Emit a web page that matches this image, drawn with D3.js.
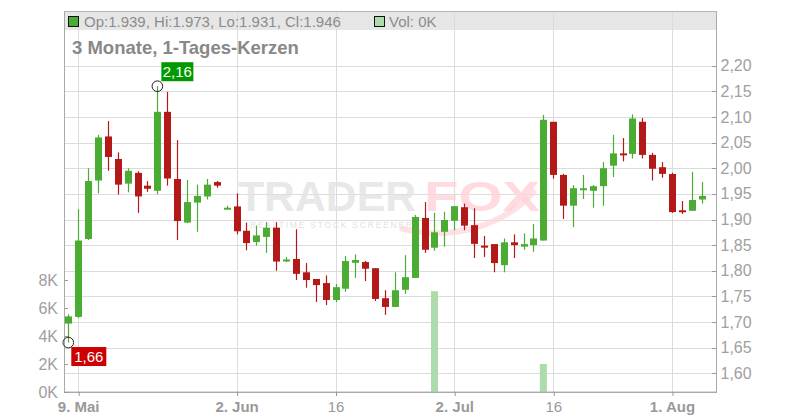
<!DOCTYPE html>
<html>
<head>
<meta charset="utf-8">
<script src="https://cdn.jsdelivr.net/npm/d3@7"></script>
<style>
  html, body { margin: 0; padding: 0; background: #fff; }
  svg { display: block; font-family: "Liberation Sans", Arial, sans-serif; }
</style>
</head>
<body>
<svg id="chart" width="800" height="420"></svg>
<script>
// ---------------- data ----------------
const dates = [
  "2024-05-08","2024-05-09","2024-05-10","2024-05-13","2024-05-14","2024-05-15","2024-05-16","2024-05-17",
  "2024-05-20","2024-05-21","2024-05-22","2024-05-23","2024-05-24","2024-05-27","2024-05-28","2024-05-29",
  "2024-05-30","2024-05-31","2024-06-03","2024-06-04","2024-06-05","2024-06-06","2024-06-07","2024-06-10",
  "2024-06-11","2024-06-12","2024-06-13","2024-06-14","2024-06-17","2024-06-18","2024-06-19","2024-06-20",
  "2024-06-21","2024-06-24","2024-06-25","2024-06-26","2024-06-27","2024-06-28","2024-07-01","2024-07-02",
  "2024-07-03","2024-07-04","2024-07-05","2024-07-08","2024-07-09","2024-07-10","2024-07-11","2024-07-12",
  "2024-07-15","2024-07-16","2024-07-17","2024-07-18","2024-07-19","2024-07-22","2024-07-23","2024-07-24",
  "2024-07-25","2024-07-26","2024-07-29","2024-07-30","2024-07-31","2024-08-01","2024-08-02","2024-08-05",
  "2024-08-06"
];
const openV = [1.697,1.71,1.862,1.976,2.062,2.018,1.970,1.991,1.966,1.956,2.11,1.979,1.894,1.933,1.945,1.973,
  1.922,1.9255,1.878,1.856,1.866,1.884,1.819,1.823,1.797,1.784,1.776,1.743,1.765,1.8155,1.817,1.805,
  1.7465,1.7295,1.763,1.786,1.903,1.845,1.876,1.8975,1.924,1.889,1.849,1.852,1.811,1.8555,1.847,1.850,
  1.859,2.0906,1.987,1.927,1.959,1.956,1.965,2.005,2.029,2.028,2.0906,2.026,2.002,1.9887,1.918,1.917,1.939];
const highV = [1.715,1.92,2.00,2.065,2.092,2.031,2.00,1.994,1.975,2.16,2.149,2.055,1.977,1.968,1.979,1.975,
  1.927,1.951,1.894,1.888,1.895,1.895,1.827,1.881,1.815,1.784,1.791,1.774,1.829,1.832,1.819,1.805,
  1.762,1.797,1.8305,1.909,1.934,1.913,1.915,1.926,1.931,1.922,1.868,1.852,1.863,1.871,1.873,1.891,
  2.104,2.0906,1.989,1.967,1.987,1.967,2.012,2.065,2.059,2.105,2.098,2.030,2.012,1.991,1.936,1.993,1.973];
const lowV = [1.66,1.708,1.86,1.951,1.995,1.949,1.953,1.913,1.954,1.949,1.966,1.86,1.893,1.876,1.939,1.962,
  1.922,1.871,1.84,1.849,1.835,1.80,1.817,1.782,1.767,1.739,1.733,1.739,1.759,1.786,1.780,1.741,
  1.714,1.7295,1.755,1.786,1.835,1.839,1.847,1.879,1.879,1.825,1.827,1.797,1.797,1.825,1.841,1.837,
  1.859,1.9795,1.901,1.885,1.940,1.923,1.927,1.983,2.0135,2.019,2.019,1.976,1.9815,1.913,1.911,1.917,1.931];
const closeV = [1.711,1.859,1.975,2.06,2.022,1.968,1.995,1.945,1.960,2.11,1.98,1.897,1.934,1.946,1.968,1.966,
  1.923,1.877,1.854,1.869,1.884,1.818,1.822,1.794,1.782,1.772,1.743,1.768,1.819,1.821,1.804,1.745,
  1.7295,1.762,1.7875,1.905,1.841,1.875,1.899,1.926,1.888,1.8525,1.846,1.815,1.8555,1.850,1.852,1.863,
  2.0945,1.987,1.927,1.961,1.961,1.965,2.0,2.029,2.026,2.097,2.026,1.999,1.989,1.9145,1.915,1.938,1.946];
const volumeV = [0,0,0,0,0,0,0,0,0,0,0,0,0,0,0,0,
  0,0,0,0,0,0,0,0,0,0,0,0,0,0,0,0,
  0,0,0,0,0,7200,0,0,0,0,0,0,0,0,0,0,
  2000,0,0,0,0,0,0,0,0,0,0,0,0,0,0,0,0];

const priceTicks = [1.60,1.65,1.70,1.75,1.80,1.85,1.90,1.95,2.00,2.05,2.10,2.15,2.20];
const volTicks = [0,2000,4000,6000,8000];
const xTickDates = ["2024-05-09","2024-05-31","2024-06-14","2024-07-02","2024-07-16","2024-08-01"];
const xTickLabels = ["9. Mai","2. Jun","16","2. Jul","16","1. Aug"];
const xTickBold = [true,true,false,true,false,true];

const headerText = "Op:1.939, Hi:1.973, Lo:1.931, Cl:1.946";
const volText = "Vol: 0K";
const titleText = "3 Monate, 1-Tages-Kerzen";
const maxLabel = "2,16";
const minLabel = "1,66";

// ---------------- layout ----------------
const L = 64, R = 716, T = 12, B = 392;
const GREEN = "#4aac32", RED = "#b31919";
const svg = d3.select("#chart");

const x = d3.scalePoint().domain(dates).range([68.3, 701.7]);
const y = d3.scaleLinear().domain([1.60, 2.20]).range([373.3, 65.7]);
const yv = d3.scaleLinear().domain([0, 8000]).range([B, 280]);

const candles = dates.map((d, i) => ({
  date: d, o: openV[i], h: highV[i], l: lowV[i], c: closeV[i], v: volumeV[i]
}));

// header band
svg.append("rect").attr("x", L).attr("y", T).attr("width", R - L).attr("height", 18).attr("fill", "#e6e6e6");

// gridlines
const grid = svg.append("g");
grid.selectAll("line.h").data(priceTicks).join("line")
  .attr("x1", L).attr("x2", R)
  .attr("y1", d => Math.round(y(d)) + 0.5).attr("y2", d => Math.round(y(d)) + 0.5)
  .attr("stroke", "#dcdcdc").attr("stroke-width", 1);
grid.selectAll("line.v").data(xTickDates).join("line")
  .attr("x1", d => Math.round(x(d)) + 0.5).attr("x2", d => Math.round(x(d)) + 0.5)
  .attr("y1", T).attr("y2", B)
  .attr("stroke", "#dcdcdc").attr("stroke-width", 1);

// watermark
const wm = svg.append("g");
wm.append("text").attr("x", 238).attr("y", 211).attr("font-size", 42).attr("font-weight", 900)
  .attr("fill", "#e4e4e4").attr("fill-opacity", 0.85).attr("textLength", 178).attr("lengthAdjust", "spacingAndGlyphs")
  .text("TRADER");
wm.append("text").attr("x", 424).attr("y", 211).attr("font-size", 42).attr("font-weight", 900)
  .attr("fill", "#ffd3d9").attr("fill-opacity", 0.85).attr("textLength", 116).attr("lengthAdjust", "spacingAndGlyphs")
  .text("FOX");
wm.append("path").attr("d", "M400,228 C440,240 500,232 535,190")
  .attr("fill", "none").attr("stroke", "#ffd3d9").attr("stroke-opacity", 0.7).attr("stroke-width", 6);
wm.append("text").attr("x", 250).attr("y", 228).attr("font-size", 8.5)
  .attr("fill", "#e2e2e2").attr("textLength", 162).attr("lengthAdjust", "spacing")
  .text("REALTIME STOCK SCREENER");

// volume bars
svg.append("g").selectAll("rect").data(candles.filter(d => d.v > 0)).join("rect")
  .attr("x", d => x(d.date) - 3.5).attr("width", 7)
  .attr("y", d => yv(d.v)).attr("height", d => B - yv(d.v))
  .attr("fill", "#acdcac");

// border / axes lines
svg.append("rect").attr("x", L + 0.5).attr("y", T - 0.5).attr("width", R - L).attr("height", B - T + 0.5)
  .attr("fill", "none").attr("stroke", "#b4b4b4").attr("stroke-width", 1);
svg.append("line").attr("x1", L).attr("x2", R + 1).attr("y1", B + 0.5).attr("y2", B + 0.5).attr("stroke", "#aaa");
svg.append("line").attr("x1", L + 0.5).attr("x2", L + 0.5).attr("y1", T).attr("y2", B).attr("stroke", "#aaa");
svg.append("line").attr("x1", R + 0.5).attr("x2", R + 0.5).attr("y1", T).attr("y2", B).attr("stroke", "#aaa");

// candles
const cg = svg.append("g");
cg.selectAll("line").data(candles).join("line")
  .attr("x1", d => Math.round(x(d.date)) + 0.5).attr("x2", d => Math.round(x(d.date)) + 0.5)
  .attr("y1", d => y(d.h)).attr("y2", d => y(d.l))
  .attr("stroke", d => d.c >= d.o ? GREEN : RED).attr("stroke-width", 1.2);
cg.selectAll("rect").data(candles).join("rect")
  .attr("x", d => Math.round(x(d.date)) - 3).attr("width", 7)
  .attr("y", d => Math.min(y(d.o), y(d.c)))
  .attr("height", d => Math.max(2, Math.abs(y(d.o) - y(d.c))))
  .attr("fill", d => d.c >= d.o ? GREEN : RED);

// right price axis
const ra = svg.append("g").attr("transform", `translate(${R + 0.5},0)`)
  .call(d3.axisRight(y).tickValues(priceTicks).tickSize(0).tickPadding(4)
    .tickFormat(d => d3.format(".2f")(d).replace(".", ",")));
ra.select(".domain").remove();
ra.selectAll("text").attr("fill", "#a0a0a0").attr("font-size", 16)
  .attr("font-family", "Liberation Sans, Arial, sans-serif");
svg.append("g").selectAll("line").data(priceTicks).join("line")
  .attr("x1", R - 4).attr("x2", R).attr("y1", d => Math.round(y(d)) + 0.5).attr("y2", d => Math.round(y(d)) + 0.5)
  .attr("stroke", "#999");

// left volume axis
const la = svg.append("g").attr("transform", `translate(${L},0)`)
  .call(d3.axisLeft(yv).tickValues(volTicks).tickSize(0).tickPadding(6)
    .tickFormat(d => (d / 1000) + "K"));
la.select(".domain").remove();
la.selectAll("text").attr("fill", "#a0a0a0").attr("font-size", 16)
  .attr("font-family", "Liberation Sans, Arial, sans-serif");
svg.append("g").selectAll("line").data(volTicks).join("line")
  .attr("x1", L).attr("x2", L + 4).attr("y1", d => Math.round(yv(d)) + 0.5).attr("y2", d => Math.round(yv(d)) + 0.5)
  .attr("stroke", "#999");

// bottom axis
const ba = svg.append("g").attr("transform", `translate(0,${B})`)
  .call(d3.axisBottom(x).tickValues(xTickDates).tickSize(4).tickPadding(5)
    .tickFormat((d, i) => xTickLabels[i]));
ba.select(".domain").remove();
ba.selectAll("line").attr("stroke", "#999").attr("transform", "translate(0.5,0)");
ba.selectAll("text").attr("fill", "#999").attr("font-size", 15)
  .attr("font-family", "Liberation Sans, Arial, sans-serif")
  .attr("font-weight", (d, i) => xTickBold[i] ? "bold" : "normal");

// header legend
svg.append("rect").attr("x", 68.5).attr("y", 16.5).attr("width", 10).attr("height", 10)
  .attr("fill", GREEN).attr("stroke", "#111");
svg.append("text").attr("x", 84).attr("y", 26.5).attr("font-size", 15).attr("fill", "#8c8c8c").text(headerText);
svg.append("rect").attr("x", 374.5).attr("y", 16.5).attr("width", 10).attr("height", 10)
  .attr("fill", "#acdcac").attr("stroke", "#111");
svg.append("text").attr("x", 389).attr("y", 26.5).attr("font-size", 15).attr("fill", "#8c8c8c").text(volText);

// title
svg.append("text").attr("x", 72).attr("y", 54).attr("font-size", 18.5).attr("font-weight", "bold")
  .attr("fill", "#888").text(titleText);

// max / min markers
const iMax = d3.maxIndex(highV), iMin = d3.minIndex(lowV);
const mx = x(dates[iMax]), my = y(highV[iMax]);
const nx = x(dates[iMin]), ny = y(lowV[iMin]);
svg.append("circle").attr("cx", mx).attr("cy", my).attr("r", 5.3).attr("fill", "none").attr("stroke", "#222");
svg.append("circle").attr("cx", nx).attr("cy", ny).attr("r", 5.3).attr("fill", "none").attr("stroke", "#222");
svg.append("rect").attr("x", mx + 4).attr("y", my - 24).attr("width", 32).attr("height", 19).attr("fill", "#009a00");
svg.append("text").attr("x", mx + 20).attr("y", my - 9).attr("text-anchor", "middle").attr("font-size", 15)
  .attr("fill", "#fff").text(maxLabel);
svg.append("rect").attr("x", nx + 3).attr("y", ny + 4.5).attr("width", 35).attr("height", 19).attr("fill", "#cc0000");
svg.append("text").attr("x", nx + 20.5).attr("y", ny + 19.5).attr("text-anchor", "middle").attr("font-size", 15)
  .attr("fill", "#fff").text(minLabel);
</script>
</body>
</html>
